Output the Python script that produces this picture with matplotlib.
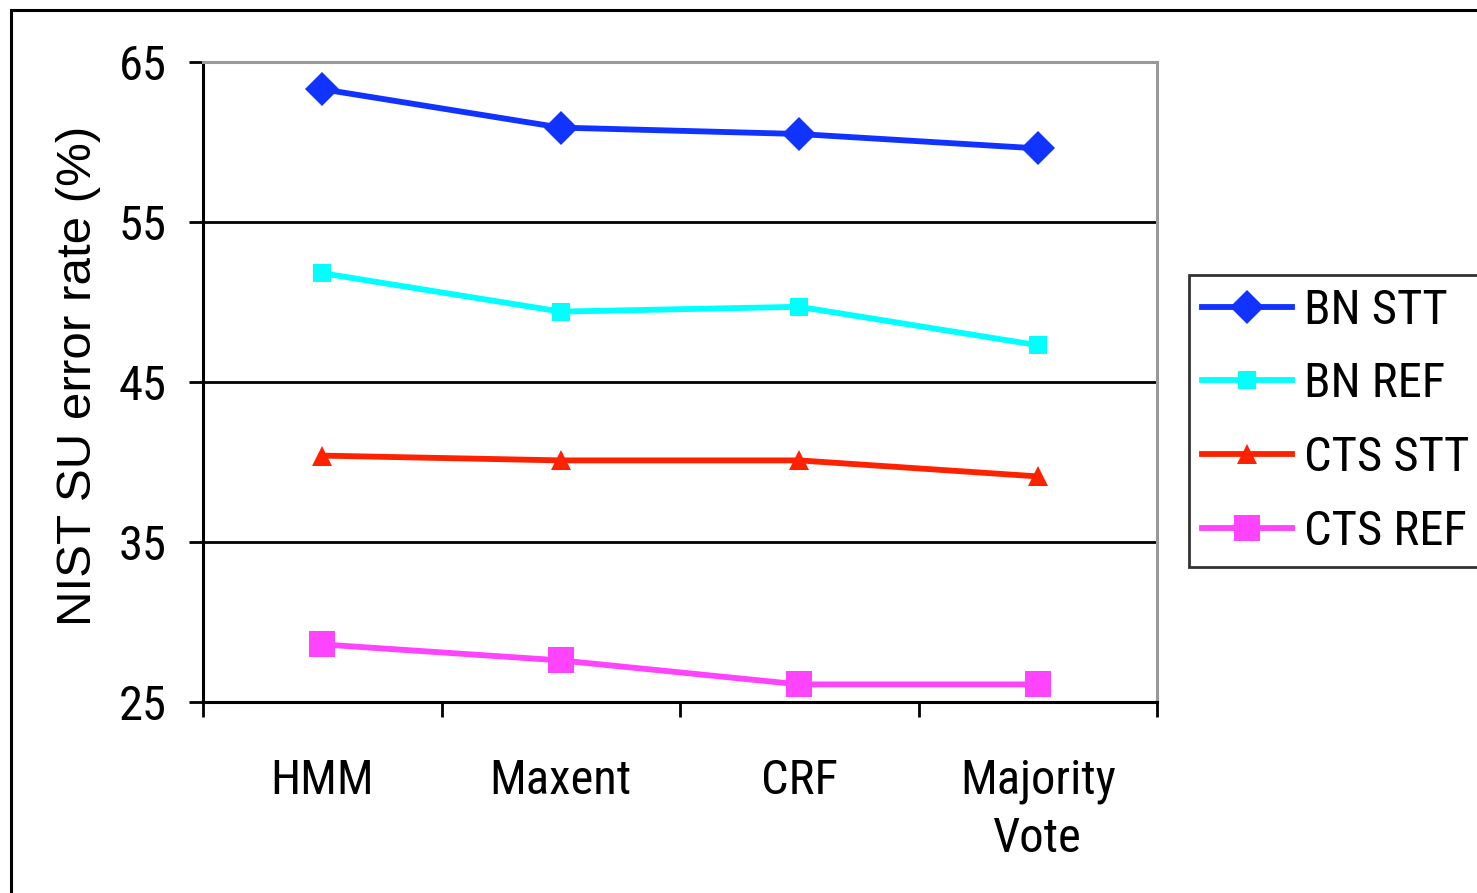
import matplotlib
matplotlib.use('Agg')
import matplotlib.pyplot as plt
from matplotlib.patches import Rectangle

plt.rcParams['font.family'] = ['Roboto Condensed', 'DejaVu Sans']

methods = ['HMM', 'Maxent', 'CRF', 'Majority\nVote']
bn_stt = [63.3, 60.9, 60.5, 59.6]
bn_ref = [51.8, 49.4, 49.7, 47.3]
cts_stt = [40.4, 40.1, 40.1, 39.1]
cts_ref = [28.6, 27.6, 26.1, 26.1]

series = [
    ('BN STT', bn_stt, '#1133FF', 'D', 17),
    ('BN REF', bn_ref, '#00FFFF', 's', 13),
    ('CTS STT', cts_stt, '#FF2200', '^', 15),
    ('CTS REF', cts_ref, '#FF44FF', 's', 19),
]

fig = plt.figure(figsize=(14.77, 8.93), dpi=100)
ax = fig.add_axes([203/1477, 1-702/893, 954/1477, 640/893])

x = range(len(methods))
for name, vals, col, mk, ms in series:
    ax.plot(x, vals, color=col, lw=4.2, marker=mk, markersize=ms,
            markeredgewidth=0, label=name, clip_on=False, zorder=3)

ax.set_xlim(-0.5, 3.5)
ax.set_ylim(25, 65)
ax.set_yticks([25, 35, 45, 55, 65])
for yv in [35, 45, 55]:
    ax.axhline(yv, color='black', lw=2.0, zorder=1)

ax.set_xticks(list(x))
ax.set_xticklabels(methods, fontsize=35, linespacing=1.35)
ax.set_xticks([-0.5, 0.5, 1.5, 2.5, 3.5], minor=True)
ax.tick_params(axis='x', which='major', length=0, pad=40)
ax.tick_params(axis='x', which='minor', length=11, width=2, direction='out')
ax.tick_params(axis='y', labelsize=35, length=10, width=2, pad=16)

for s in ['left', 'bottom']:
    ax.spines[s].set_color('black')
    ax.spines[s].set_linewidth(2.2)
for s in ['top', 'right']:
    ax.spines[s].set_color('#999999')
    ax.spines[s].set_linewidth(2.2)

# the y title in the original is in a wider face than the rest
ax.set_ylabel('NIST SU error rate (%)', fontsize=35.5,
              family=['Liberation Sans', 'DejaVu Sans'])
ax.yaxis.set_label_coords(-0.107, 0.51)

leg = ax.legend(loc='upper left', bbox_to_anchor=(1189/1477, 1-275/893),
                bbox_transform=fig.transFigure, fontsize=35, frameon=True,
                fancybox=False, borderaxespad=0, borderpad=0.26,
                handlelength=1.85, handletextpad=0.25, labelspacing=0.57)
leg.get_frame().set_edgecolor('black')
leg.get_frame().set_linewidth(2)

fig.patches.append(Rectangle((11/1477, -0.1), 1.2, 1-10/893+0.1,
                             transform=fig.transFigure, fill=False,
                             edgecolor='black', lw=2.2))

fig.savefig('out.png', dpi=100)
